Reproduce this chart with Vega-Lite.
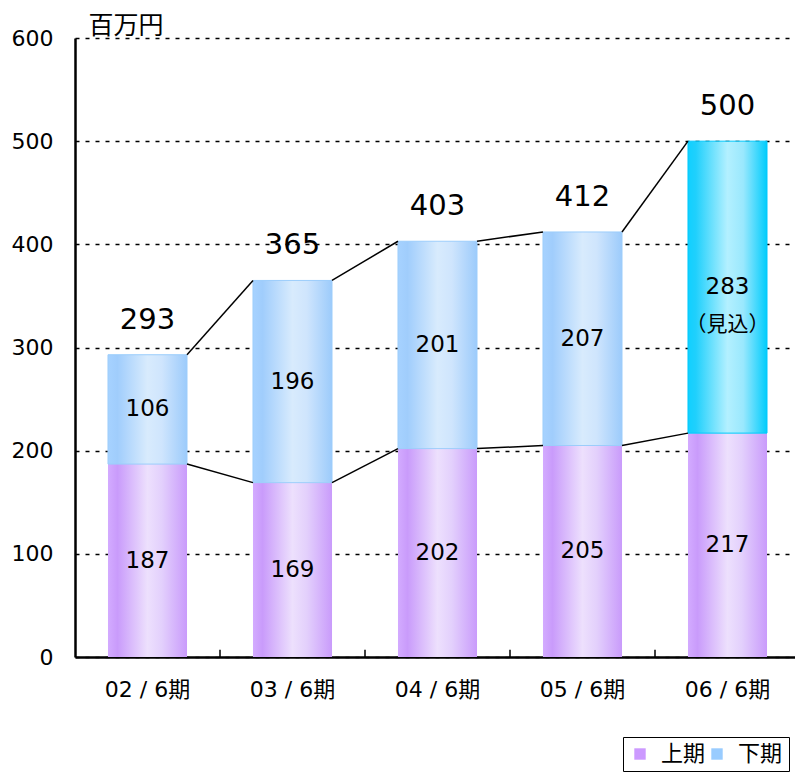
{
  "$schema": "https://vega.github.io/schema/vega-lite/v6.json",
  "width": 725,
  "height": 619,
  "autosize": {"type": "none"},
  "padding": {"left": 75, "top": 38, "right": 0, "bottom": 116},
  "background": "white",
  "config": {
    "view": {"stroke": null},
    "font": "DejaVu Sans, Noto Sans CJK JP",
    "text": {"font": "DejaVu Sans, Noto Sans CJK JP", "color": "black"}
  },
  "data": {
    "values": [
      {"period": "02 / 6期", "h1": 187, "h2": 106, "total": 293},
      {"period": "03 / 6期", "h1": 169, "h2": 196, "total": 365},
      {"period": "04 / 6期", "h1": 202, "h2": 201, "total": 403},
      {"period": "05 / 6期", "h1": 205, "h2": 207, "total": 412},
      {"period": "06 / 6期", "h1": 217, "h2": 283, "total": 500, "note": "（見込）"}
    ]
  },
  "encoding": {
    "x": {
      "field": "period",
      "type": "nominal",
      "sort": null,
      "scale": {"paddingInner": 0.455, "paddingOuter": 0.2275},
      "axis": {
        "title": null,
        "labelAngle": 0,
        "labelFontSize": 22,
        "labelColor": "black",
        "labelPadding": 22,
        "domainColor": "black",
        "domainWidth": 2.5,
        "ticks": false
      }
    }
  },
  "layer": [
    {
      "mark": {
        "type": "bar",
        "color": {
          "gradient": "linear", "x1": 0, "x2": 1, "y1": 0, "y2": 0,
          "stops": [
            {"offset": 0, "color": "#d3abff"},
            {"offset": 0.12, "color": "#c99bfb"},
            {"offset": 0.5, "color": "#ede0fd"},
            {"offset": 0.68, "color": "#e3d0fc"},
            {"offset": 1, "color": "#c99bfb"}
          ]
        }
      },
      "encoding": {
        "y": {
          "field": "h1",
          "type": "quantitative",
          "scale": {"domain": [0, 600], "nice": false},
          "axis": {
            "title": "百万円",
            "titleAngle": 0,
            "titleAlign": "left",
            "titleBaseline": "alphabetic",
            "titleX": 13,
            "titleY": -5,
            "titleFontSize": 25,
            "titleFontWeight": "normal",
            "titleColor": "black",
            "values": [0, 100, 200, 300, 400, 500, 600],
            "labelFontSize": 22,
            "labelColor": "black",
            "labelPadding": 22,
            "ticks": false,
            "domainColor": "black",
            "domainWidth": 2.5,
            "grid": true,
            "gridColor": "black",
            "gridDash": [4, 6],
            "gridWidth": 1.5
          }
        }
      }
    },
    {
      "transform": [{"filter": "datum.period !== '06 / 6期'"}],
      "mark": {
        "type": "bar",
        "stroke": "#9ccdfb",
        "strokeWidth": 1,
        "color": {
          "gradient": "linear", "x1": 0, "x2": 1, "y1": 0, "y2": 0,
          "stops": [
            {"offset": 0, "color": "#a6d2ff"},
            {"offset": 0.12, "color": "#a0cdfc"},
            {"offset": 0.5, "color": "#d8ebfd"},
            {"offset": 0.68, "color": "#cfe5fd"},
            {"offset": 1, "color": "#9ccbfb"}
          ]
        }
      },
      "encoding": {
        "y": {"field": "h1", "type": "quantitative"},
        "y2": {"field": "total"}
      }
    },
    {
      "transform": [{"filter": "datum.period === '06 / 6期'"}],
      "mark": {
        "type": "bar",
        "stroke": "#00c8fc",
        "strokeWidth": 1,
        "color": {
          "gradient": "linear", "x1": 0, "x2": 1, "y1": 0, "y2": 0,
          "stops": [
            {"offset": 0, "color": "#10d0ff"},
            {"offset": 0.1, "color": "#20d0fc"},
            {"offset": 0.5, "color": "#b3f0ff"},
            {"offset": 0.7, "color": "#9ae8fd"},
            {"offset": 1, "color": "#00ccfc"}
          ]
        }
      },
      "encoding": {
        "y": {"field": "h1", "type": "quantitative"},
        "y2": {"field": "total"}
      }
    },
    {
      "transform": [{"filter": "datum.period !== '06 / 6期'"}],
      "mark": {"type": "rule", "color": "black", "strokeWidth": 1.5, "xOffset": 72.5},
      "encoding": {
        "y": {"datum": 0, "type": "quantitative"},
        "y2": {"datum": 7}
      }
    },
    {
      "transform": [
        {"window": [
          {"op": "lead", "field": "period", "as": "next"},
          {"op": "lead", "field": "total", "as": "nextTotal"},
          {"op": "lead", "field": "h1", "as": "nextH1"}
        ], "sort": [{"field": "period", "order": "ascending"}]},
        {"filter": "datum.next != null"}
      ],
      "layer": [
        {
          "mark": {"type": "rule", "color": "black", "strokeWidth": 1.5, "xOffset": 39.5, "x2Offset": -39.5},
          "encoding": {
            "x2": {"field": "next"},
            "y": {"field": "total", "type": "quantitative"},
            "y2": {"field": "nextTotal"}
          }
        },
        {
          "mark": {"type": "rule", "color": "black", "strokeWidth": 1.5, "xOffset": 39.5, "x2Offset": -39.5},
          "encoding": {
            "x2": {"field": "next"},
            "y": {"field": "h1", "type": "quantitative"},
            "y2": {"field": "nextH1"}
          }
        }
      ]
    },
    {
      "transform": [{"calculate": "datum.h1 / 2", "as": "m1"}],
      "mark": {"type": "text", "fontSize": 23, "baseline": "middle"},
      "encoding": {
        "y": {"field": "m1", "type": "quantitative"},
        "text": {"field": "h1"}
      }
    },
    {
      "transform": [{"calculate": "(datum.h1 + datum.total) / 2", "as": "m2"}],
      "mark": {"type": "text", "fontSize": 23, "baseline": "middle"},
      "encoding": {
        "y": {"field": "m2", "type": "quantitative"},
        "text": {"field": "h2"}
      }
    },
    {
      "transform": [
        {"filter": "datum.note != null"},
        {"calculate": "(datum.h1 + datum.total) / 2", "as": "m2"}
      ],
      "mark": {"type": "text", "fontSize": 21, "baseline": "middle", "dy": 38},
      "encoding": {
        "y": {"field": "m2", "type": "quantitative"},
        "text": {"field": "note"}
      }
    },
    {
      "mark": {"type": "text", "fontSize": 29, "baseline": "middle", "dy": -35},
      "encoding": {
        "y": {"field": "total", "type": "quantitative"},
        "text": {"field": "total"}
      }
    },
    {
      "data": {"values": [{"s": "上期"}, {"s": "下期"}]},
      "mark": {"type": "point", "filled": true, "size": 0, "opacity": 0},
      "encoding": {
        "x": {"value": 0},
        "y": {"value": 0},
        "color": {
          "field": "s",
          "type": "nominal",
          "scale": {"domain": ["上期", "下期"], "range": ["#cc99ff", "#99ccff"]},
          "legend": {
            "title": null,
            "orient": "none",
            "legendX": 548,
            "legendY": 699,
            "direction": "horizontal",
            "strokeColor": "black",
            "fillColor": "white",
            "padding": 6,
            "symbolType": "square",
            "symbolSize": 130,
            "symbolOpacity": 1,
            "symbolStrokeWidth": 0,
            "labelFontSize": 22,
            "labelColor": "black",
            "labelOffset": 10,
            "columnPadding": 0
          }
        }
      }
    }
  ]
}
